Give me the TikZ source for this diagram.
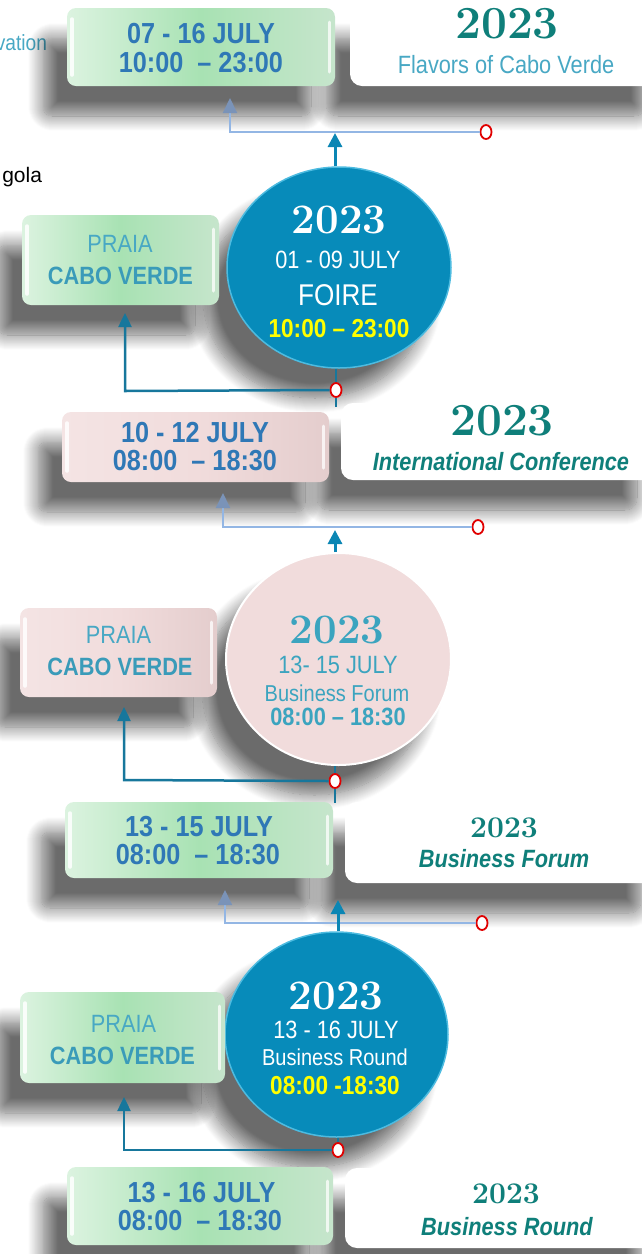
\documentclass[tikz,border=0pt]{standalone}
\usepackage{fontspec}
\usetikzlibrary{shapes.geometric,shadows.blur,arrows.meta}
\newfontfamily\nar[FakeStretch=0.87]{Liberation Sans}
\newfontfamily\plainsans{Liberation Sans}
\newcommand\fsz[1]{\fontsize{#1}{#1}\selectfont}
\definecolor{dateBlue}{HTML}{2F78B6}
\definecolor{titleTeal}{HTML}{0F7F7A}
\definecolor{lightTeal}{HTML}{48A8C4}
\definecolor{caboTeal}{HTML}{3A9BB9}
\definecolor{circBlue}{HTML}{078BBA}
\definecolor{circRim}{HTML}{4DBBE0}
\definecolor{pinkTxt}{HTML}{3BA4BF}
\definecolor{pinkM}{HTML}{F1DCDC}
\definecolor{pinkE}{HTML}{F4E4E4}
\definecolor{pinkR}{HTML}{E4CDCD}
\definecolor{greenM}{HTML}{A8E2B3}
\definecolor{greenE}{HTML}{DCF3E0}
\definecolor{greenR}{HTML}{C6E5CC}
\definecolor{tealLine}{HTML}{0B86B4}
\definecolor{darkLine}{HTML}{17779C}
\definecolor{lightLine}{HTML}{93B6E4}
\definecolor{lightHead}{HTML}{7A93B8}
\definecolor{ringRed}{HTML}{E00000}
\definecolor{sunYellow}{HTML}{FFFF00}
\tikzset{
 shd/.style={blur shadow={shadow xshift=-24pt,shadow yshift=-30pt,shadow blur radius=15pt,shadow blur steps=16,shadow opacity=58}},
 box/.style={shd, rectangle, rounded corners=9pt, inner sep=0pt, outer sep=0pt},
 gloss/.style={path picture={
   \draw[white,opacity=.85,line width=3.5pt,line cap=round]
     ([xshift=5pt,yshift=-11pt]path picture bounding box.north west) --
     ([xshift=5pt,yshift=11pt]path picture bounding box.south west);
   \draw[white,opacity=.75,line width=3pt,line cap=round]
     ([xshift=-6pt,yshift=-14pt]path picture bounding box.north east) --
     ([xshift=-6pt,yshift=14pt]path picture bounding box.south east);}},
 gbox/.style={box, gloss, left color=greenE, right color=greenR, middle color=greenM},
 pbox/.style={box, gloss, left color=pinkE, right color=pinkR, middle color=pinkM},
 wbox/.style={box, fill=white, rounded corners=12pt},
 bcirc/.style={ellipse, inner sep=0pt, shd, fill=circBlue, draw=circRim, line width=1.5pt},
 pcirc/.style={ellipse, inner sep=0pt, shd, fill=pinkM, draw=white, line width=2pt},
 txt/.style={anchor=base, inner sep=0pt, outer sep=0pt},
 datetxt/.style={txt, text=dateBlue, font=\nar\bfseries\fsz{29}},
 yr/.style={txt, font=\bfseries\fsz{#1}},
 praia/.style={txt, text=lightTeal, font=\nar\fsz{25}},
 cabo/.style={txt, text=caboTeal, font=\nar\bfseries\fsz{25}},
 ttl/.style={txt, text=titleTeal, font=\nar\bfseries\itshape\fsz{25}},
 ring/.style={ellipse, draw=ringRed, fill=white, line width=1.8pt, minimum width=11pt, minimum height=14pt, inner sep=0pt},
 tarr/.style={draw=tealLine, line width=3pt, -{Triangle[width=14pt,length=14pt]}},
 dline/.style={draw=darkLine, line width=2.5pt},
 darr/.style={dline, -{Triangle[width=13pt,length=14pt]}},
 larr/.style={draw=lightLine, line width=2pt, -{Triangle[width=14pt,length=15pt,color=lightHead]}}
}
\begin{document}
\begin{tikzpicture}[x=1pt,y=-1pt]
\useasboundingbox (0,0) rectangle (641,1254);

\node[txt, anchor=base east, text=lightTeal, font=\nar\fsz{22}] (vat) at (47,50) {vation};
\node[txt, anchor=base east, font=\plainsans\fsz{21}] (gol) at (42,182) {gola};

% row 1
\node[wbox, minimum width=320pt, minimum height=78pt] (w1) at (510,47) {};
\node[gbox, minimum width=268pt, minimum height=78pt] (g1) at (201,47) {};
\node[datetxt] (g1a) at (201,43) {07 - 16 JULY};
\node[datetxt] (g1b) at (201,72) {10:00~~– 23:00};
\node[yr=46, text=titleTeal] (w1a) at (507,38) {2023};
\node[txt, text=lightTeal, font=\nar\fsz{25}] (w1b) at (506,73) {Flavors of Cabo Verde};

% circle 1
\node[bcirc, minimum width=224pt, minimum height=201pt] (c1) at (339,267.5) {};
\node[yr=42, text=white] (c1a) at (339,233) {2023};
\node[txt, text=white, font=\nar\fsz{25}] (c1b) at (338,268) {01 - 09 JULY};
\node[txt, text=white, font=\nar\fsz{30}] (c1c) at (338,305) {FOIRE};
\node[txt, text=sunYellow, font=\nar\bfseries\fsz{26}] (c1d) at (339,337) {10:00 – 23:00};
\node[gbox, minimum width=197pt, minimum height=90pt] (g2) at (120.5,260) {};
\node[praia] (g2a) at (120,252) {PRAIA};
\node[cabo] (g2b) at (120.5,284) {CABO VERDE};

% row 3
\node[wbox, minimum width=320pt, minimum height=77pt] (w2) at (501,441.5) {};
\node[pbox, minimum width=267pt, minimum height=70pt] (p1) at (195.5,447) {};
\node[datetxt] (p1a) at (195,442) {10 - 12 JULY};
\node[datetxt] (p1b) at (195,470) {08:00~~– 18:30};
\node[yr=46, text=titleTeal] (w2a) at (502,435) {2023};
\node[ttl] (w2b) at (501,470) {International Conference};

% circle 2
\node[pcirc, minimum width=225pt, minimum height=212pt] (c2) at (338.5,659) {};
\node[yr=42, text=pinkTxt] (c2a) at (337,643) {2023};
\node[txt, text=pinkTxt, font=\nar\fsz{25}] (c2b) at (338,673) {13- 15 JULY};
\node[txt, text=pinkTxt, font=\nar\fsz{23}] (c2c) at (337,701) {Business Forum};
\node[txt, text=pinkTxt, font=\nar\bfseries\fsz{25}] (c2d) at (338,725) {08:00 – 18:30};
\node[pbox, minimum width=197pt, minimum height=89pt] (p2) at (118.5,652.5) {};
\node[praia] (p2a) at (118.5,643) {PRAIA};
\node[cabo] (p2b) at (120,675) {CABO VERDE};

% row 5
\node[wbox, minimum width=320pt, minimum height=81pt] (w3) at (505,842.5) {};
\node[gbox, minimum width=268pt, minimum height=76pt] (g3) at (199,840) {};
\node[datetxt] (g3a) at (199,836) {13 - 15 JULY};
\node[datetxt] (g3b) at (198,864) {08:00~~– 18:30};
\node[yr=30, text=titleTeal] (w3a) at (504,837) {2023};
\node[ttl] (w3b) at (504,867) {Business Forum};

% circle 3
\node[bcirc, minimum width=223pt, minimum height=205pt] (c3) at (336.5,1034.5) {};
\node[yr=42, text=white] (c3a) at (336,1009) {2023};
\node[txt, text=white, font=\nar\fsz{25}] (c3b) at (336,1038) {13 - 16 JULY};
\node[txt, text=white, font=\nar\fsz{23}] (c3c) at (335,1065) {Business Round};
\node[txt, text=sunYellow, font=\nar\bfseries\fsz{26}] (c3d) at (335,1094) {08:00 -18:30};
\node[gbox, minimum width=205pt, minimum height=91pt] (g4) at (122.5,1037.5) {};
\node[praia] (g4a) at (123.5,1032) {PRAIA};
\node[cabo] (g4b) at (122.5,1064) {CABO VERDE};

% row 7
\node[wbox, minimum width=320pt, minimum height=80pt] (w5) at (505,1208) {};
\node[gbox, minimum width=266pt, minimum height=78pt] (g5) at (200,1206) {};
\node[datetxt] (g5a) at (201.5,1202) {13 - 16 JULY};
\node[datetxt] (g5b) at (200,1230) {08:00~~– 18:30};
\node[yr=30, text=titleTeal] (w5a) at (506,1203) {2023};
\node[ttl] (w5b) at (507,1235) {Business Round};

% connectors
\node[ring] (r1) at (486,132) {};
\coordinate (k1) at (230,132);
\coordinate (t1) at (230,98);
\coordinate (a1) at (335,133);
\draw[larr] (r1.west) -- (k1) -- (t1);
\draw[tarr] (c1.north -| a1) -- (a1);

\node[ring] (r2) at (336,390) {};
\coordinate (v2) at (336,407);
\coordinate (k2) at (125,391);
\coordinate (t2) at (125,313);
\draw[dline] (c1.south -| r2) -- (r2.north);
\draw[dline] (r2.south) -- (v2);
\draw[darr] (r2.west) -- (k2) -- (t2);

\node[ring] (r3) at (478,527) {};
\coordinate (k3) at (223,527);
\coordinate (t3) at (223,493);
\coordinate (a3) at (335,530);
\draw[larr] (r3.west) -- (k3) -- (t3);
\draw[tarr] (c2.north -| a3) -- (a3);

\node[ring] (r4) at (335,781) {};
\coordinate (v4) at (335,803);
\coordinate (k4) at (124,780);
\coordinate (t4) at (124,707);
\draw[dline] (c2.south -| r4) -- (r4.north);
\draw[dline] (r4.south) -- (v4);
\draw[darr] (r4.west) -- (k4) -- (t4);

\node[ring] (r5) at (482,923) {};
\coordinate (k5) at (225,923);
\coordinate (t5) at (225,890);
\coordinate (a5) at (338,900);
\draw[larr] (r5.west) -- (k5) -- (t5);
\draw[tarr] (c3.north -| a5) -- (a5);

\node[ring] (r6) at (338,1150) {};
\coordinate (k6) at (124,1150);
\coordinate (t6) at (124,1097);
\draw[dline] (c3.south -| r6) -- (r6.north);
\draw[darr] (r6.west) -- (k6) -- (t6);
\end{tikzpicture}
\end{document}
